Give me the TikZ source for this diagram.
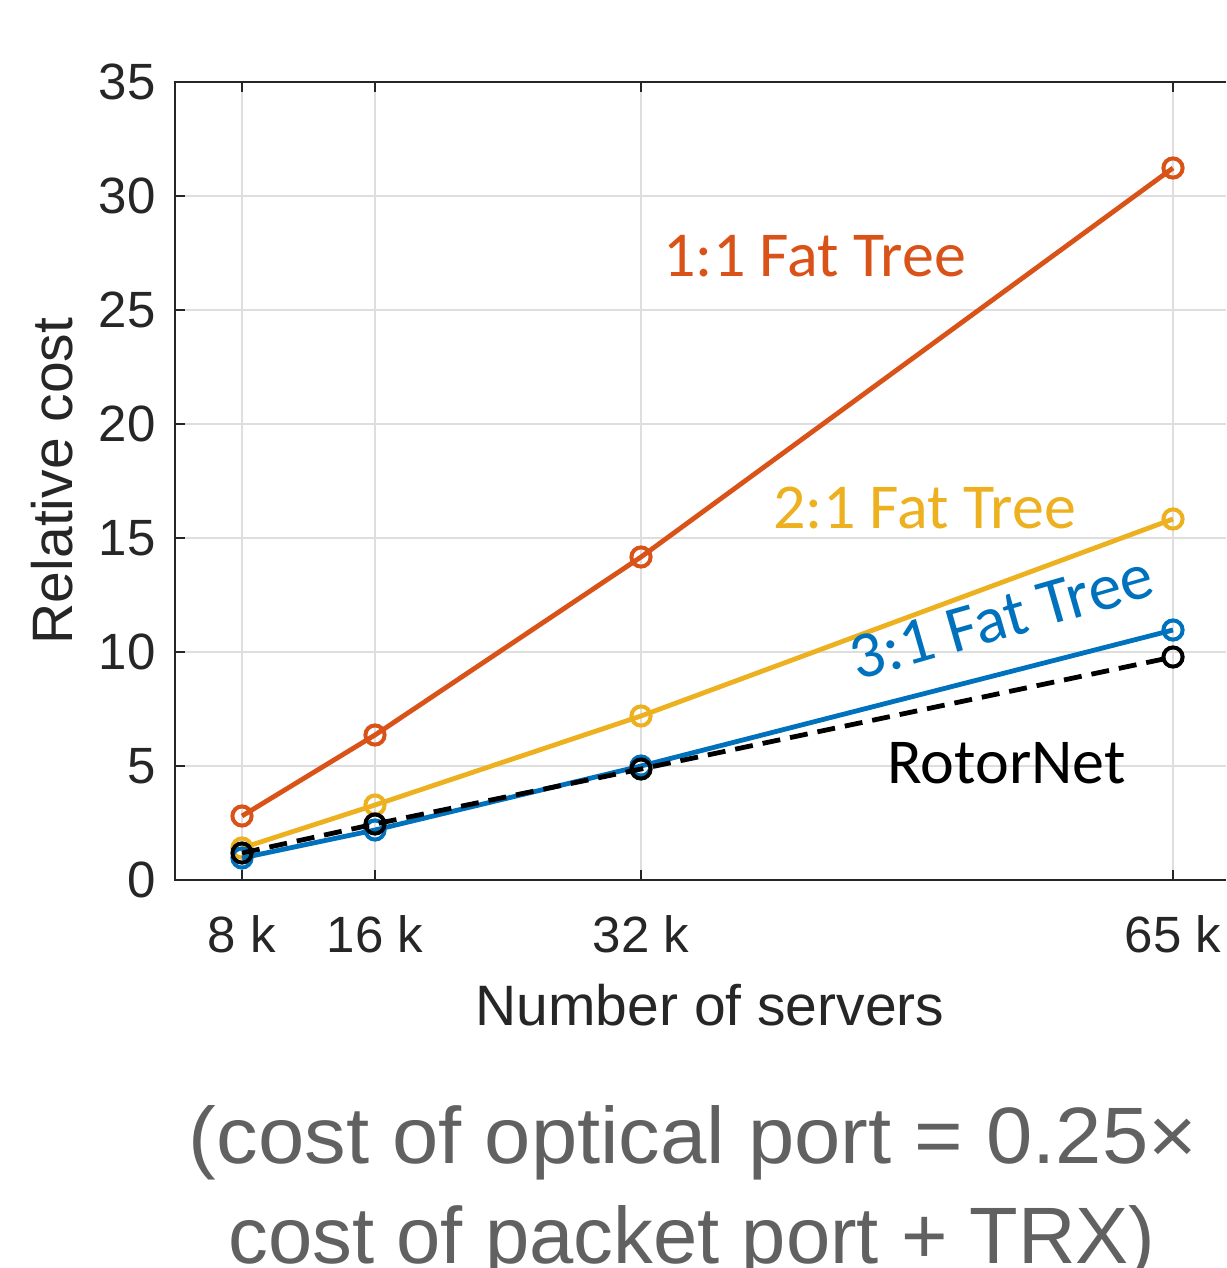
\documentclass[tikz,border=0pt]{standalone}
\usepackage{fontspec}
\usepackage{graphicx}
\newfontfamily\axfont{Liberation Sans}
\newfontfamily\lblfont{Carlito}
\definecolor{axgray}{HTML}{262626}
\definecolor{gridgray}{HTML}{DEDEDE}
\definecolor{fatone}{HTML}{D95319}
\definecolor{fattwo}{HTML}{EDB120}
\definecolor{fatthree}{HTML}{0072BD}
\definecolor{capgray}{HTML}{616161}
\tikzset{
  gridline/.style={draw=gridgray, line width=0.75pt},
  axisline/.style={draw=axgray, line width=1pt},
  ticklbl/.style={inner sep=0pt, text=axgray, font=\axfont\fontsize{25.5}{30}\selectfont},
  axlbl/.style={inner sep=0pt, text=axgray, font=\axfont\fontsize{28.5}{34}\selectfont},
  serieslbl/.style={inner sep=0pt, anchor=base west, font=\lblfont\fontsize{32}{38}\selectfont},
  series/.style={line width=2.4pt, line join=round},
  marker/.style={line width=2pt},
  caption/.style={inner sep=0pt, anchor=base, text=capgray, font=\axfont\fontsize{40}{48}\selectfont}
}
\begin{document}
\begin{tikzpicture}[x=0.5pt,y=-0.5pt]
\useasboundingbox (0,0) rectangle (1226,1268);
\fill[white] (0,0) rectangle (1226,1268);

% grid
\foreach \yy in {766,652,538,424,310,196}
  \draw[gridline] (175,\yy) -- (1226,\yy);
\foreach \xx in {242,375,641,1173}
  \draw[gridline] (\xx,82) -- (\xx,880);

% axes frame and ticks
\draw[axisline] (1226,82) -- (175,82) -- (175,880) -- (1226,880);
\foreach \yy in {766,652,538,424,310,196}
  \draw[axisline] (175,\yy) -- (185,\yy);
\foreach \xx in {242,375,641,1173}{
  \draw[axisline] (\xx,880) -- (\xx,870);
  \draw[axisline] (\xx,82) -- (\xx,92);
}

% tick labels
\foreach \v/\yy in {0/880,5/766,10/652,15/538,20/424,25/310,30/196,35/82}
  \node[ticklbl, anchor=east] (ytick\v) at (156,\yy) {\v};
\foreach \k/\xx in {8/242,16/375,32/641,65/1173}
  \node[ticklbl, anchor=base] (xtick\k) at (\xx,952) {\k\ k};

% axis labels
\node[axlbl, anchor=base] (xlabel) at (710,1025) {Number of servers};
\node[axlbl, anchor=base, rotate=90] (ylabel) at (72,481) {Relative cost};

% data points
\coordinate (a1) at (242,816); \coordinate (a2) at (375,735);
\coordinate (a3) at (641,557); \coordinate (a4) at (1173,168);
\coordinate (b1) at (242,848); \coordinate (b2) at (375,805);
\coordinate (b3) at (641,716); \coordinate (b4) at (1173,519);
\coordinate (c1) at (242,858); \coordinate (c2) at (375,830);
\coordinate (c3) at (641,766); \coordinate (c4) at (1173,630);
\coordinate (r1) at (242,853); \coordinate (r2) at (375,824);
\coordinate (r3) at (641,769); \coordinate (r4) at (1173,657);

% 1:1 fat tree
\draw[series, fatone] (a1) -- (a2) -- (a3) -- (a4);
\foreach \p in {a1,a2,a3,a4} \draw[marker, fatone] (\p) circle[radius=4.8pt];
% 2:1 fat tree
\draw[series, fattwo] (b1) -- (b2) -- (b3) -- (b4);
\foreach \p in {b1,b2,b3,b4} \draw[marker, fattwo] (\p) circle[radius=4.8pt];
% 3:1 fat tree
\draw[series, fatthree] (c1) -- (c2) -- (c3) -- (c4);
\foreach \p in {c1,c2,c3,c4} \draw[marker, fatthree] (\p) circle[radius=4.8pt];
% RotorNet
\draw[series, black, dash pattern=on 9pt off 5pt] (r1) -- (r2) -- (r3) -- (r4);
\foreach \p in {r1,r2,r3,r4} \draw[marker, black] (\p) circle[radius=4.8pt];

% series labels
\node[serieslbl, text=fatone] (lblone) at (663,276) {1:1 Fat Tree};
\node[serieslbl, text=fattwo] (lbltwo) at (773,528) {2:1 Fat Tree};
\node[serieslbl, text=fatthree, rotate=16, font=\lblfont\fontsize{33}{40}\selectfont] (lblthree) at (857,681) {3:1 Fat Tree};
\node[serieslbl, text=black] (lblrotor) at (887,783) {RotorNet};

% caption
\node[caption] (capone) at (693,1163) {\scalebox{1.04}[1]{(cost of optical port = 0.25×}};
\node[caption] (captwo) at (692,1263) {\scalebox{0.995}[1]{cost of packet port + TRX)}};
\end{tikzpicture}
\end{document}
